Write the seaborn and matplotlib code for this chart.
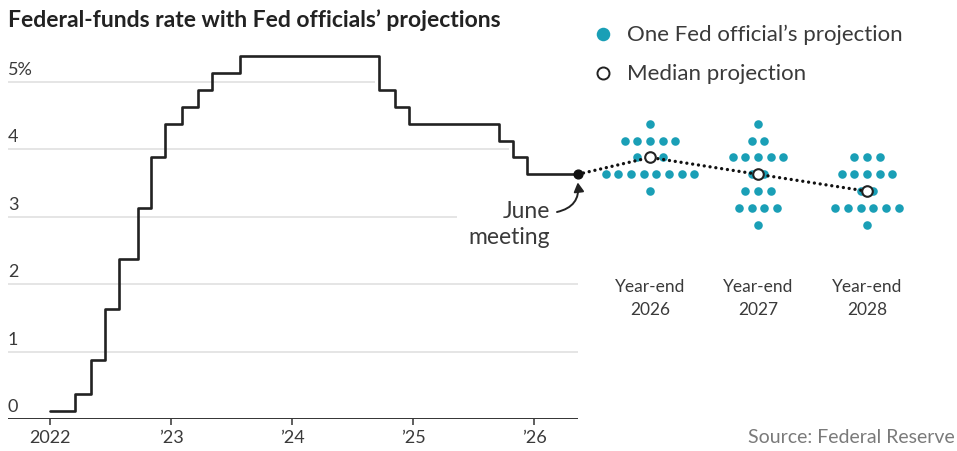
import numpy as np
import pandas as pd
import matplotlib
matplotlib.use("Agg")
import matplotlib.pyplot as plt
import seaborn as sns

# ---- data -------------------------------------------------------------
# Federal-funds target range midpoint after each change (percent)
rate_dates = ["2022-01-01", "2022-03-17", "2022-05-05", "2022-06-16", "2022-07-28",
              "2022-09-22", "2022-11-03", "2022-12-15", "2023-02-02", "2023-03-23",
              "2023-05-04", "2023-07-27", "2024-09-19", "2024-11-08", "2024-12-19",
              "2025-09-18", "2025-10-30", "2025-12-11", "2026-05-13"]
rate_mid = [0.125, 0.375, 0.875, 1.625, 2.375,
            3.125, 3.875, 4.375, 4.625, 4.875,
            5.125, 5.375, 4.875, 4.625, 4.375,
            4.125, 3.875, 3.625, 3.625]

# Individual officials' year-end projections (percent)
proj_2026 = [4.375,
             4.125, 4.125, 4.125, 4.125, 4.125,
             3.875, 3.875, 3.875,
             3.625, 3.625, 3.625, 3.625, 3.625, 3.625, 3.625, 3.625,
             3.375]
proj_2027 = [4.375,
             4.125, 4.125,
             3.875, 3.875, 3.875, 3.875, 3.875,
             3.625, 3.625,
             3.375, 3.375, 3.375,
             3.125, 3.125, 3.125, 3.125,
             2.875]
proj_2028 = [3.875, 3.875, 3.875,
             3.625, 3.625, 3.625, 3.625, 3.625,
             3.375, 3.375,
             3.125, 3.125, 3.125, 3.125, 3.125, 3.125,
             2.875]
proj_years = [2026, 2027, 2028]
median_proj = [3.875, 3.625, 3.375]

year_ticks = [2022, 2023, 2024, 2025, 2026]
year_labels = ["2022", "\u201923", "\u201924", "\u201925", "\u201926"]
rate_ticks = [0, 1, 2, 3, 4, 5]
rate_labels = ["0", "1", "2", "3", "4", "5%"]

# ---- style ------------------------------------------------------------
sns.set_theme(style="white")
plt.rcParams["font.family"] = ["Lato", "DejaVu Sans"]

TEAL = "#1a9fb6"
INK = "#222222"
TXT = "#3a3a3a"
GRID = "#dedede"

W, H = 957, 452
fig = plt.figure(figsize=(W / 100, H / 100), dpi=100)
fig.patch.set_facecolor("white")

# axes fill the figure; x in years, y in percent
PX_PER_YEAR = 121.0
PX_PER_PCT = 67.5
X0_PX = 50.0          # pixel column of 2022
Y0_PX = 420.0         # pixel row of 0%
ax = fig.add_axes([0, (H - Y0_PX) / H, 1, Y0_PX / H])
ax.set_xlim(2022 - X0_PX / PX_PER_YEAR, 2022 + (W - X0_PX) / PX_PER_YEAR)
ax.set_ylim(0, Y0_PX / PX_PER_PCT)
ax.set_facecolor("white")
for s in ax.spines.values():
    s.set_visible(False)


def xpx(px):
    return 2022 + (px - X0_PX) / PX_PER_YEAR


def ypx(py):
    return (Y0_PX - py) / PX_PER_PCT


def to_year(d):
    t = pd.Timestamp(d)
    days = 366 if t.is_leap_year else 365
    return t.year + (t.dayofyear - 1) / days


x_rate = [to_year(d) for d in rate_dates]
x_last, y_last = x_rate[-1], rate_mid[-1]

# gridlines (each stops short of the rate line / annotation)
grid_end_px = {1: 578, 2: 578, 3: 457, 4: 509, 5: 375}
for lvl, end in grid_end_px.items():
    ax.hlines(lvl, xpx(8), xpx(end), color=GRID, lw=1.1, zorder=1)

# baseline
ax.hlines(0, xpx(8), x_last, color="#333333", lw=1.4, zorder=2)

# y labels sitting above the gridlines
for v, lab in zip(rate_ticks, rate_labels):
    ax.text(xpx(8), v + 0.07, lab, ha="left", va="bottom", fontsize=13, color=TXT)

# x ticks
ax.set_xticks(year_ticks)
ax.set_xticklabels(year_labels)
ax.set_yticks([])
ax.tick_params(axis="x", direction="out", length=4, width=1.1, color="#333333",
               pad=3, labelsize=13, labelcolor=TXT, bottom=True)

# rate step line
rate_df = pd.DataFrame({"x": x_rate, "rate": rate_mid})
sns.lineplot(data=rate_df, x="x", y="rate", drawstyle="steps-post", color=INK,
             lw=1.9, estimator=None, sort=False, ax=ax, zorder=4)

# projection dot columns
col_center_px = [650, 758, 867]
dot_step = 12.7 / PX_PER_YEAR
rows = []
for yr, cx, vals in zip(proj_years, col_center_px, [proj_2026, proj_2027, proj_2028]):
    s = pd.Series(vals)
    for lvl, cnt in s.value_counts().items():
        offs = (np.arange(cnt) - (cnt - 1) / 2) * dot_step
        for o in offs:
            rows.append({"year": yr, "x": xpx(cx) + o, "rate": lvl})
dots = pd.DataFrame(rows)
sns.scatterplot(data=dots, x="x", y="rate", color=TEAL, s=38, linewidth=0,
                ax=ax, zorder=3, legend=False)

# dotted median path
med_x = [x_last] + [xpx(c) for c in col_center_px]
med_y = [y_last] + median_proj
ax.plot(med_x, med_y, color="#111111", lw=2.4, ls=(0, (0.01, 1.75)),
        dash_capstyle="round", zorder=5)
ax.scatter(x_last, y_last, s=40, color="#111111", zorder=6)
ax.scatter([xpx(c) for c in col_center_px], median_proj, s=58, facecolor="white",
           edgecolor="#222222", linewidth=1.5, zorder=7)
ax.set_xlabel("")
ax.set_ylabel("")

# year-end captions
for yr, cx in zip(proj_years, col_center_px):
    ax.text(xpx(cx), ypx(287), "Year-end", ha="center", va="center",
            fontsize=12.5, color=TXT)
    ax.text(xpx(cx), ypx(310), str(yr), ha="center", va="center",
            fontsize=12.5, color=TXT)

# June meeting callout
ax.text(xpx(550), ypx(212), "June", ha="right", va="center",
        fontsize=16.5, color=TXT)
ax.text(xpx(550), ypx(238), "meeting", ha="right", va="center",
        fontsize=16.5, color=TXT)
ax.annotate("", xy=(x_last, y_last - 0.12),
            xytext=(xpx(557), ypx(213)),
            arrowprops=dict(arrowstyle="-|>,head_length=0.45,head_width=0.25",
                            connectionstyle="arc3,rad=0.45", color="#222222", lw=1.4,
                            shrinkA=0, shrinkB=0))

# legend
ax.scatter(xpx(603), ypx(35), s=95, color=TEAL, linewidth=0, clip_on=False)
ax.scatter(xpx(603), ypx(74), s=75, facecolor="white",
           edgecolor="#222222", linewidth=1.4, clip_on=False)
ax.text(xpx(627), ypx(35), "One Fed official\u2019s projection",
        ha="left", va="center", fontsize=16, color=TXT)
ax.text(xpx(627), ypx(74), "Median projection",
        ha="left", va="center", fontsize=16, color=TXT)

# title and source
fig.text(8 / W, 1 - 20 / H, "Federal-funds rate with Fed officials\u2019 projections",
         ha="left", va="center", fontsize=16.5, fontweight="bold", color=INK)
fig.text(955 / W, 1 - 438 / H, "Source: Federal Reserve", ha="right", va="center",
         fontsize=14, color="#7a7a7a")

fig.savefig("out.png", dpi=100, facecolor="white")
